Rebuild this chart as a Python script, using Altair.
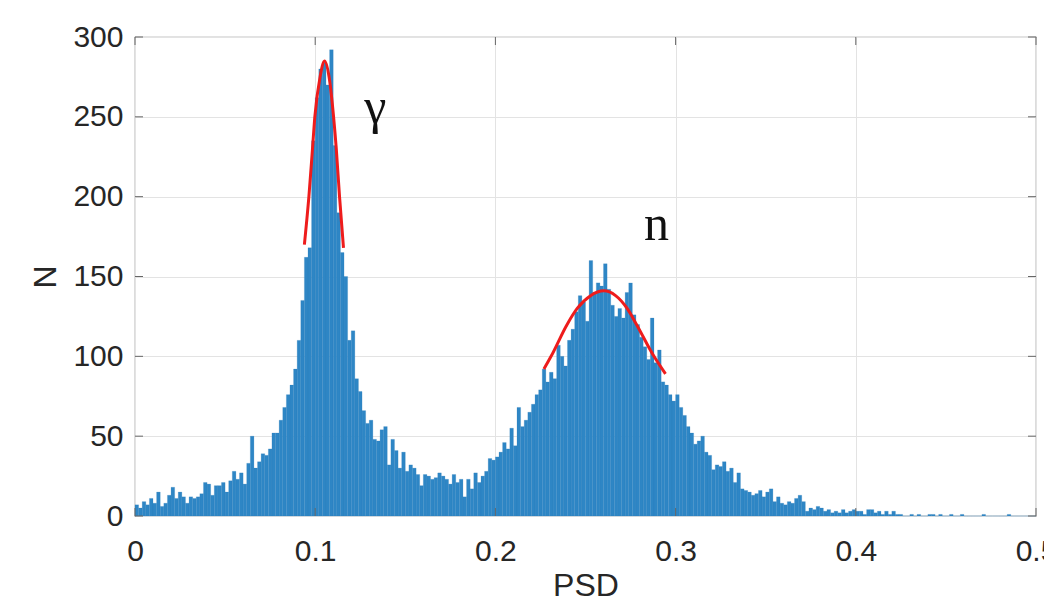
import altair as alt
import pandas as pd

# ---------------- data ----------------
BIN_WIDTH = 0.002
counts = [
    7, 5, 9, 7, 11, 8, 15, 6, 8, 13,
    18, 11, 15, 12, 8, 12, 11, 12, 14, 21,
    20, 13, 19, 19, 21, 15, 22, 28, 23, 27,
    20, 33, 50, 30, 34, 39, 38, 42, 52, 52,
    60, 68, 76, 82, 92, 110, 135, 162, 168, 235,
    262, 280, 284, 270, 292, 232, 190, 165, 150, 110,
    116, 86, 78, 66, 58, 60, 48, 47, 54, 56,
    32, 48, 41, 30, 40, 28, 32, 30, 26, 19,
    26, 25, 23, 24, 27, 25, 23, 20, 26, 21,
    23, 12, 23, 17, 27, 21, 25, 28, 36, 35,
    37, 40, 46, 42, 55, 44, 68, 56, 60, 65,
    70, 76, 79, 92, 84, 90, 86, 107, 100, 94,
    110, 117, 128, 138, 134, 122, 160, 140, 146, 144,
    158, 142, 132, 125, 130, 124, 140, 146, 126, 120,
    112, 106, 98, 124, 96, 104, 84, 82, 76, 72,
    76, 68, 63, 56, 52, 45, 47, 50, 40, 38,
    29, 32, 31, 34, 28, 30, 21, 27, 17, 16,
    15, 13, 14, 16, 12, 15, 17, 9, 12, 8,
    7, 9, 8, 11, 13, 9, 3, 5, 4, 6,
    5, 3, 4, 2, 3, 2, 4, 2, 3, 4,
    3, 3, 1, 4, 4, 2, 3, 1, 3, 1,
    3, 1, 1, 0, 0, 1, 0, 1, 0, 0,
    1, 1, 0, 1, 0, 0, 1, 0, 0, 1,
    0, 0, 0, 0, 0, 1, 0, 0, 0, 0,
    0, 0, 1, 0, 0, 0, 0, 0, 0, 0,
]

gamma_fit_x = [0.0940, 0.0965, 0.0985, 0.0998, 0.1027, 0.1052, 0.1077, 0.1102, 0.1117, 0.1135, 0.1157]
gamma_fit_y = [170, 200, 230, 250, 275, 285, 275, 250, 230, 200, 168]

n_fit_x = [0.2269, 0.2309, 0.2398, 0.2454, 0.2528, 0.2602, 0.2667, 0.2731, 0.2783, 0.2880, 0.2944]
n_fit_y = [92, 100, 120, 130, 138, 141, 138, 130, 120, 100, 89]

label_text = ["γ", "n"]
label_x = [0.1333, 0.2894]
label_y = [246, 173]

x_ticks = [0, 0.1, 0.2, 0.3, 0.4, 0.5]
y_ticks = [0, 50, 100, 150, 200, 250, 300]

# ---------------- tables ----------------
bars = pd.DataFrame({
    "x": [i * BIN_WIDTH for i in range(len(counts))],
    "x2": [(i + 1) * BIN_WIDTH for i in range(len(counts))],
    "y": counts,
})
gfit = pd.DataFrame({"x": gamma_fit_x, "y": gamma_fit_y})
nfit = pd.DataFrame({"x": n_fit_x, "y": n_fit_y})
labels = pd.DataFrame({"x": label_x, "y": label_y, "t": label_text})
xt = pd.DataFrame({"x": x_ticks})
yt = pd.DataFrame({"y": y_ticks})

W, H = 901, 479
FONT = "Liberation Sans"
TXT = "#262626"
AXC = "#8a8a8a"

xscale = alt.Scale(domain=[0, 0.5], nice=False, zero=False)
yscale = alt.Scale(domain=[0, 300], nice=False)

x_axis = alt.Axis(
    title="PSD", values=x_ticks, format="~g", grid=True, gridColor="#e3e3e3",
    ticks=False, tickSize=0, domain=False, labelFont=FONT, labelFontSize=30,
    labelColor=TXT, labelPadding=20, titleFont=FONT, titleFontSize=32,
    titleFontWeight="normal", titleColor=TXT, titlePadding=4, labelFlush=False,
)
y_axis = alt.Axis(
    title="N", values=y_ticks, grid=True, gridColor="#e3e3e3",
    ticks=False, tickSize=0, domain=False, labelFont=FONT, labelFontSize=30,
    labelColor=TXT, labelPadding=12, titleFont=FONT, titleFontSize=32,
    titleFontWeight="normal", titleColor=TXT, titlePadding=10, labelFlush=False,
)

X = lambda f: alt.X(f, scale=xscale, axis=x_axis)
Y = lambda f: alt.Y(f, scale=yscale, axis=y_axis)

bar_layer = alt.Chart(bars).mark_bar(color="#2e86c5", stroke="#2a7cb8", strokeWidth=0.2).encode(
    x=X("x:Q"), x2="x2:Q", y=Y("y:Q"), y2=alt.datum(0)
)

gline = alt.Chart(gfit).mark_line(color="#ee1c1c", strokeWidth=3, interpolate="monotone").encode(
    x=X("x:Q"), y=Y("y:Q")
)
nline = alt.Chart(nfit).mark_line(color="#ee1c1c", strokeWidth=3, interpolate="monotone").encode(
    x=X("x:Q"), y=Y("y:Q")
)

txt = alt.Chart(labels).mark_text(
    font="Liberation Serif", fontSize=50, color="#111111", baseline="alphabetic", align="center"
).encode(x=X("x:Q"), y=Y("y:Q"), text="t:N")

tick_len = 8
bt = alt.Chart(xt).mark_rule(color="#666666").encode(x=X("x:Q"), y=alt.value(H), y2=alt.value(H - tick_len))
tt = alt.Chart(xt).mark_rule(color="#666666").encode(x=X("x:Q"), y=alt.value(0), y2=alt.value(tick_len))
lt = alt.Chart(yt).mark_rule(color="#666666").encode(y=Y("y:Q"), x=alt.value(0), x2=alt.value(tick_len))
rt = alt.Chart(yt).mark_rule(color="#666666").encode(y=Y("y:Q"), x=alt.value(W), x2=alt.value(W - tick_len))

chart = alt.layer(bar_layer, gline, nline, txt, bt, tt, lt, rt).properties(
    width=W, height=H,
    autosize=alt.AutoSizeParams(type="none"),
    padding={"left": 127, "top": 29, "right": 8, "bottom": 86},
    background="white",
).configure_view(stroke=AXC, strokeWidth=1.2)

chart.save("out.html", embed_options={"renderer": "svg", "actions": False})
